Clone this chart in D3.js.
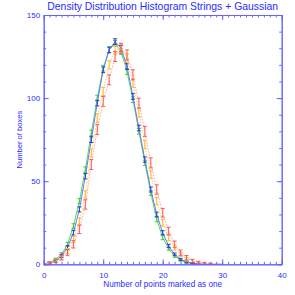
<!DOCTYPE html>
<html><head><meta charset="utf-8">
<script src="https://cdn.jsdelivr.net/npm/d3@7/dist/d3.min.js"></script>
<style>
html,body{margin:0;padding:0;background:#fff;}
svg{display:block;font-family:"Liberation Sans",Arial,Helvetica,sans-serif;}
</style></head>
<body>
<svg id="c" width="295" height="295"></svg>
<script>
// ---- data ----
const xs = [0,1,2,3,4,5,6,7,8,9,10,11,12,13,14,15,16,17,18,19,20,21,22,23,24,25,26,27,28,29,30];
const blueVals   = [0,1,2,5,10,19,33,53,75,97,117,129,134,130,119,101,82,63,45,30,19,11,6,3,1.5,0.7,0.3,0,0,0,0];
const blueErr    = [0,0.5,0.7,1,1.2,1.4,1.5,1.6,1.7,1.7,1.7,1.7,1.7,1.7,1.7,1.7,1.7,1.6,1.5,1.4,1.2,1,0.8,0.6,0.5,0.3,0.2,0,0,0,0];
const greenVals  = [0,1,3,6,12,23,38,57,79,100,118,129,133,128,116,99,80,61,43,27,16,9.5,5,2.5,1,0.5,0.2,0,0,0,0];
const greenErr   = [0,0.5,0.7,1,1.2,1.4,1.5,1.6,1.7,1.7,1.7,1.7,1.7,1.7,1.7,1.7,1.7,1.6,1.5,1.4,1.2,1,0.8,0.6,0.5,0.3,0.2,0,0,0,0];
const yellowVals = [0,1,2,4,8,15,26,42,67,88,104,120,129,130,124,109,91,72,54,38,25,16,10,6,3,2,1,0.5,0,0,0];
const yellowErr  = [0,0.6,0.8,1.2,1.5,1.8,2,2.2,2.4,2.5,2.5,2.5,2.5,2.5,2.5,2.5,2.5,2.4,2.3,2.2,2,1.8,1.5,1.2,1,0.8,0.6,0.4,0,0,0];
const redVals    = [0,0.5,2,4,7,12,21,36,60,81,98,111,125,130,126,114,97,80,61,45,31,20,12,7,4,2,1,0.5,0.3,0,0];
const redErr     = [0,0.7,1,1.4,1.8,2.2,2.5,2.8,3,3,3,3,3,3,3,3,3,3,3,2.8,2.6,2.3,2,1.6,1.3,1,0.8,0.6,0.4,0,0];
const xTicks = [0,10,20,30,40];
const yTicks = [0,50,100,150];
const titleText = "Density Distribution Histogram Strings + Gaussian";
const xLabel = "Number of points marked as one";
const yLabel = "Number of boxes";

// ---- layout ----
const L = 43.7, R = 281.7, T = 15, B = 264.3;
const svg = d3.select("#c");
const x = d3.scaleLinear().domain([0,40]).range([L,R]);
const y = d3.scaleLinear().domain([0,150]).range([B,T]);
const axisCol = "#6464ff", textCol = "#2b2bff";

const series = [
  {vals: greenVals,  err: greenErr,  line: "#52dc52", bar: "#3ccf3c", dash: null},
  {vals: blueVals,   err: blueErr,   line: "#6478ff", bar: "#3434d8", dash: null},
  {vals: yellowVals, err: yellowErr, line: "#ffd450", bar: "#ffb830", dash: "1.5,1.5"},
  {vals: redVals,    err: redErr,    line: "#ffa0a0", bar: "#ff5858", dash: "1.5,1.5"}
];

const line = d3.line().x((d,i)=>x(xs[i])).y(d=>y(d));
series.forEach(s=>{
  svg.append("path").attr("d", line(s.vals)).attr("fill","none")
    .attr("stroke", s.line).attr("stroke-width",1)
    .attr("stroke-dasharray", s.dash);
  const g = svg.append("g").attr("stroke", s.bar).attr("stroke-width",1);
  s.vals.forEach((v,i)=>{
    const e = s.err[i];
    if (e <= 0) return;
    const cx = x(xs[i]);
    g.append("line").attr("x1",cx).attr("x2",cx).attr("y1",y(v-e)).attr("y2",y(v+e));
    g.append("line").attr("x1",cx-2).attr("x2",cx+2).attr("y1",y(v+e)).attr("y2",y(v+e));
    g.append("line").attr("x1",cx-2).attr("x2",cx+2).attr("y1",y(v-e)).attr("y2",y(v-e));
  });
});

// ---- axes ----
function styleAxis(g){
  g.selectAll("path,line").attr("stroke", axisCol);
  g.selectAll("text").attr("fill", textCol).attr("font-size", 8)
    .attr("font-family","Liberation Sans, Arial, sans-serif");
}
const minorX = d3.range(0,41,1), minorY = d3.range(0,151,10);
// bottom
svg.append("g").attr("transform",`translate(0,${B})`)
  .call(d3.axisBottom(x).tickValues(minorX).tickSize(-2.5).tickSizeOuter(0).tickFormat(""))
  .call(styleAxis);
svg.append("g").attr("transform",`translate(0,${B})`)
  .call(d3.axisBottom(x).tickValues(xTicks).tickSize(-5).tickSizeOuter(0).tickPadding(8).tickFormat(d3.format("d")))
  .call(styleAxis);
// top
svg.append("g").attr("transform",`translate(0,${T})`)
  .call(d3.axisTop(x).tickValues(minorX).tickSize(-2.5).tickSizeOuter(0).tickFormat(""))
  .call(styleAxis);
svg.append("g").attr("transform",`translate(0,${T})`)
  .call(d3.axisTop(x).tickValues(xTicks).tickSize(-5).tickSizeOuter(0).tickFormat(""))
  .call(styleAxis);
// left
svg.append("g").attr("transform",`translate(${L},0)`)
  .call(d3.axisLeft(y).tickValues(minorY).tickSize(-2.5).tickSizeOuter(0).tickFormat(""))
  .call(styleAxis);
svg.append("g").attr("transform",`translate(${L},0)`)
  .call(d3.axisLeft(y).tickValues(yTicks).tickSize(-5).tickSizeOuter(0).tickPadding(3.5).tickFormat(d3.format("d")))
  .call(styleAxis);
// right
svg.append("g").attr("transform",`translate(${R},0)`)
  .call(d3.axisRight(y).tickValues(minorY).tickSize(-2.5).tickSizeOuter(0).tickFormat(""))
  .call(styleAxis);
svg.append("g").attr("transform",`translate(${R},0)`)
  .call(d3.axisRight(y).tickValues(yTicks).tickSize(-5).tickSizeOuter(0).tickFormat(""))
  .call(styleAxis);

// ---- titles ----
svg.append("text").attr("x",(L+R)/2).attr("y",10.3).attr("text-anchor","middle")
  .attr("fill",textCol).attr("font-size",10.4).text(titleText);
svg.append("text").attr("x",(L+R)/2).attr("y",287).attr("text-anchor","middle")
  .attr("fill",textCol).attr("font-size",8.2).text(xLabel);
svg.append("text").attr("transform",`translate(21.5,${(T+B)/2}) rotate(-90)`).attr("text-anchor","middle")
  .attr("fill",textCol).attr("font-size",7.6).text(yLabel);
</script>
</body></html>
